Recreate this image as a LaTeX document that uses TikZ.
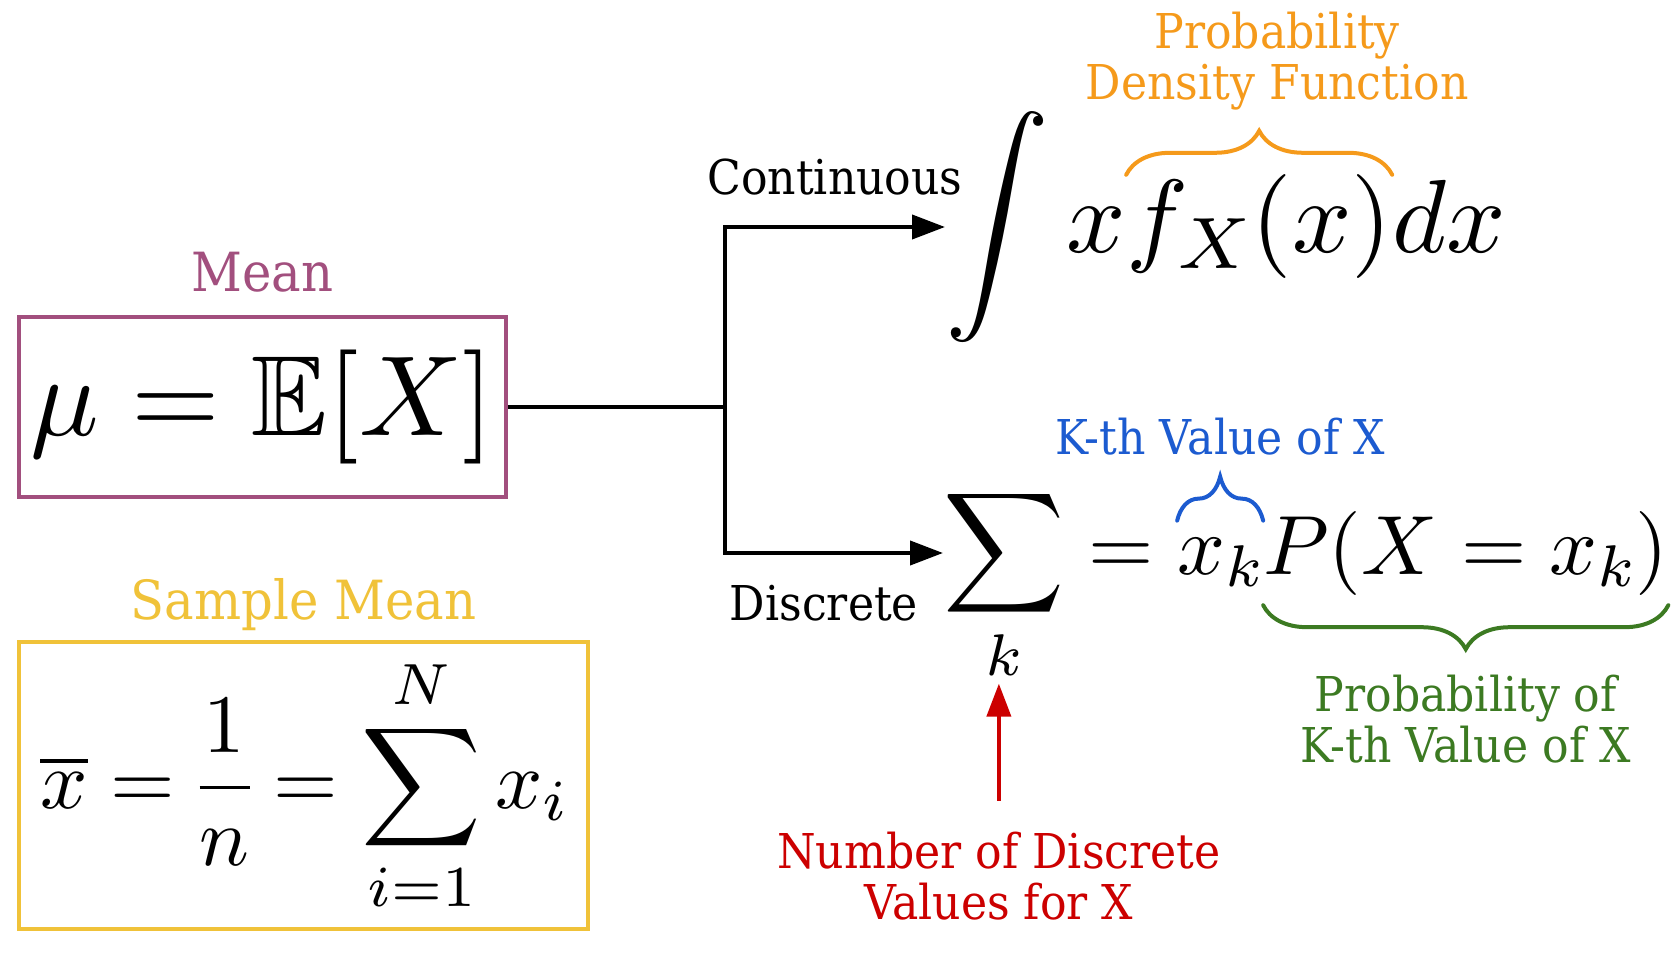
\documentclass[tikz,border=0pt]{standalone}
\usepackage{amsmath}
\usepackage{amssymb}
\usepackage[no-math]{fontspec}
\newfontfamily\labelfont{DejaVu Serif}[FakeStretch=0.92]
% scalable math fonts (design sizes 7 and 10 only) for the large formulas
\DeclareFontShape{OT1}{cmr}{m}{n}{<-80> cmr7 <80-> cmr10}{}
\DeclareFontShape{OML}{cmm}{m}{it}{<-80> cmmi7 <80-> cmmi10}{}
\DeclareFontShape{OMS}{cmsy}{m}{n}{<-80> cmsy7 <80-> cmsy10}{}
\DeclareFontShape{OMX}{cmex}{m}{n}{<-> cmex10}{}
\DeclareFontFamily{U}{msb}{}
\DeclareFontShape{U}{msb}{m}{n}{<-> msbm10}{}
\usetikzlibrary{arrows.meta,positioning,calc,decorations.pathreplacing}
\definecolor{meancol}{HTML}{A24F7E}
\definecolor{samplecol}{HTML}{F0C239}
\definecolor{pdfcol}{HTML}{F59A1B}
\definecolor{kthcol}{HTML}{1C5BD0}
\definecolor{probcol}{HTML}{3C7A22}
\definecolor{numcol}{HTML}{CC0000}
\tikzset{
  fml/.style={inner sep=0pt,anchor=base west},
  intf/.style={fml,font=\fontsize{104}{110}\selectfont},
  sumf/.style={fml,font=\fontsize{84}{90}\selectfont},
  lbl/.style={font=\labelfont\fontsize{48}{51}\selectfont,align=center,inner sep=0pt},
  biglbl/.style={lbl,font=\labelfont\fontsize{54}{57}\selectfont},
  framebox/.style={draw,line width=4.5pt,inner sep=0pt},
  flow/.style={-{Triangle[length=33pt,width=24pt]},line width=4pt,draw=black},
  redflow/.style={flow,draw=numcol},
  curly/.style={decorate,decoration={brace,amplitude=44pt},line width=4pt,line cap=round},
}

\begin{document}
\begin{tikzpicture}[x=1pt,y=1pt]
  \useasboundingbox (0,0) rectangle (1680,954);

  % --- the two boxed definitions ---
  \node[framebox,draw=meancol,minimum width=487pt,minimum height=180pt,
    font=\fontsize{114}{120}\selectfont] (mean) at (262.5,547) {$\mu = \mathbb{E}[X]$};
  \node[biglbl,text=meancol,above=22pt of mean] (meanlbl) {Mean};

  \node[framebox,draw=samplecol,minimum width=569pt,minimum height=287pt,
    font=\fontsize{83}{90}\selectfont] (sample) at (303.5,168.5)
    {$\displaystyle \overline{x} = \frac{1}{n} = \sum_{i=1}^{N} x_i$};
  \node[biglbl,text=samplecol,above=9pt of sample] (samplelbl) {Sample Mean};

  % --- continuous case ---
  \node[intf] (int) at (945,701) {$\displaystyle\int x$};
  \node[intf] (fx) at (int.base east) {$f_X(x)$};
  \node[intf] (dx) at (fx.base east) {$dx$};
  \draw[curly,draw=pdfcol] (fx.north west) -- (fx.north east);
  \node[lbl,text=pdfcol,above=64pt of fx,xshift=18pt] (pdf) {Probability\\Density Function};

  % --- discrete case ---
  \node[sumf] (sum) at (943,380) {$\displaystyle\sum_k$};
  \node[sumf] (eq) at (sum.base east) {${}={}$};
  \node[sumf] (xk) at (eq.base east) {$x_k$};
  \node[sumf] (pk) at (xk.base east) {$P(X = x_k)$};
  \draw[curly,draw=kthcol] ([yshift=17pt]xk.north west) -- ([yshift=17pt]xk.north east);
  \node[lbl,text=kthcol,above=82pt of xk] (kth) {K-th Value of X};
  \draw[curly,draw=probcol] ([yshift=-10pt]pk.south east) -- ([yshift=-10pt]pk.south west);
  \node[lbl,text=probcol,below=80pt of pk] (prob) {Probability of\\K-th Value of X};
  \node[lbl,text=numcol,below=148pt of sum,xshift=-5pt] (num) {Number of Discrete\\Values for X};
  \draw[redflow] ([yshift=31pt]num.north) -- (num.north |- sum.south);

  % --- the split ---
  \coordinate (split) at (725,547);
  \draw[line width=4pt] (mean.east) -- (split);
  \draw[flow] (split) |- node[lbl,pos=0.75,above=30pt] (cont) {Continuous}
    ([yshift=26pt]int.base west);
  \draw[flow] (split) |- node[lbl,pos=0.75,below=30pt,xshift=-10pt] (disc) {Discrete}
    ([yshift=21pt]sum.base west);
\end{tikzpicture}
\end{document}
